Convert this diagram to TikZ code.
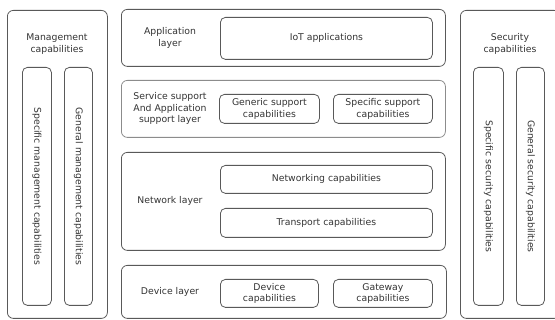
\documentclass[tikz,border=0pt]{standalone}
\usepackage{fontspec}
\setmainfont{DejaVu Sans}
\usepackage{tikz}
\usetikzlibrary{positioning}

\tikzset{
  outerbox/.style={draw=black!65, line width=0.8pt, rounded corners=6pt, inner sep=0pt, anchor=north west},
  capbox/.style={draw=black!65, line width=0.8pt, rounded corners=5pt, inner sep=0pt, anchor=north west, align=center, text=black!80},
  lbl/.style={align=center, text=black!80, inner sep=1pt}
}

\begin{document}
\begin{tikzpicture}[x=1pt, y=-1pt, font=\fontsize{9.3}{11.5}\selectfont]
	%\draw [help lines] (0,0) grid (555,320);
	\useasboundingbox (0,0) rectangle (555,320);
	\clip (0,0) rectangle (555,320);
	% management column
	\node [outerbox, minimum width=100pt, minimum height=308pt] (mgmt) at (7,10) {};
	\node [lbl] (mgmtlbl) at (57,44) {Management\\capabilities};
	\node [capbox, minimum width=29pt, minimum height=238pt] (specmgmt) at (22,67) {};
	\node [lbl, rotate=-90] at (specmgmt.center) {Specific management capabilities};
	\node [capbox, minimum width=28pt, minimum height=238pt] (genmgmt) at (64,67) {};
	\node [lbl, rotate=-90] at (genmgmt.center) {General management capabilities};
	% layers
	\node [outerbox, minimum width=324pt, minimum height=57pt] (app) at (121,9) {};
	\node [lbl] (applbl) at (170,38) {Application\\layer};
	\node [capbox, minimum width=212pt, minimum height=42pt] (iot) at (220,17) {IoT applications};
	\node [outerbox, draw=black!45, minimum width=324pt, minimum height=57pt] (svc) at (121,80) {};
	\node [lbl] (svclbl) at (170,108.5) {Service support\\And Application\\support layer};
	\node [capbox, minimum width=100pt, minimum height=29pt] (generic) at (219,94) {Generic support\\capabilities};
	\node [capbox, minimum width=99pt, minimum height=29pt] (specific) at (333,94) {Specific support\\capabilities};
	\node [outerbox, minimum width=324pt, minimum height=98pt] (net) at (121,152) {};
	\node [lbl] (netlbl) at (170,201) {Network layer};
	\node [capbox, minimum width=212pt, minimum height=28pt] (networking) at (220,165) {Networking capabilities};
	\node [capbox, minimum width=212pt, minimum height=29pt] (transport) at (220,208) {Transport capabilities};
	\node [outerbox, minimum width=325pt, minimum height=53pt] (dev) at (121,265) {};
	\node [lbl] (devlbl) at (170,292) {Device layer};
	\node [capbox, minimum width=98pt, minimum height=28pt] (devcap) at (220,279) {Device\\capabilities};
	\node [capbox, minimum width=99pt, minimum height=28pt] (gwcap) at (333,279) {Gateway\\capabilities};
	% security column
	\node [outerbox, minimum width=100pt, minimum height=308pt] (sec) at (460,10) {};
	\node [lbl] (seclbl) at (510,44) {Security\\capabilities};
	\node [capbox, minimum width=30pt, minimum height=238pt] (specsec) at (473,67) {};
	\node [lbl, rotate=-90] at (specsec.center) {Specific security capabilities};
	\node [capbox, minimum width=28pt, minimum height=238pt] (gensec) at (516,67) {};
	\node [lbl, rotate=-90] at (gensec.center) {General security capabilities};
\end{tikzpicture}
\end{document}
